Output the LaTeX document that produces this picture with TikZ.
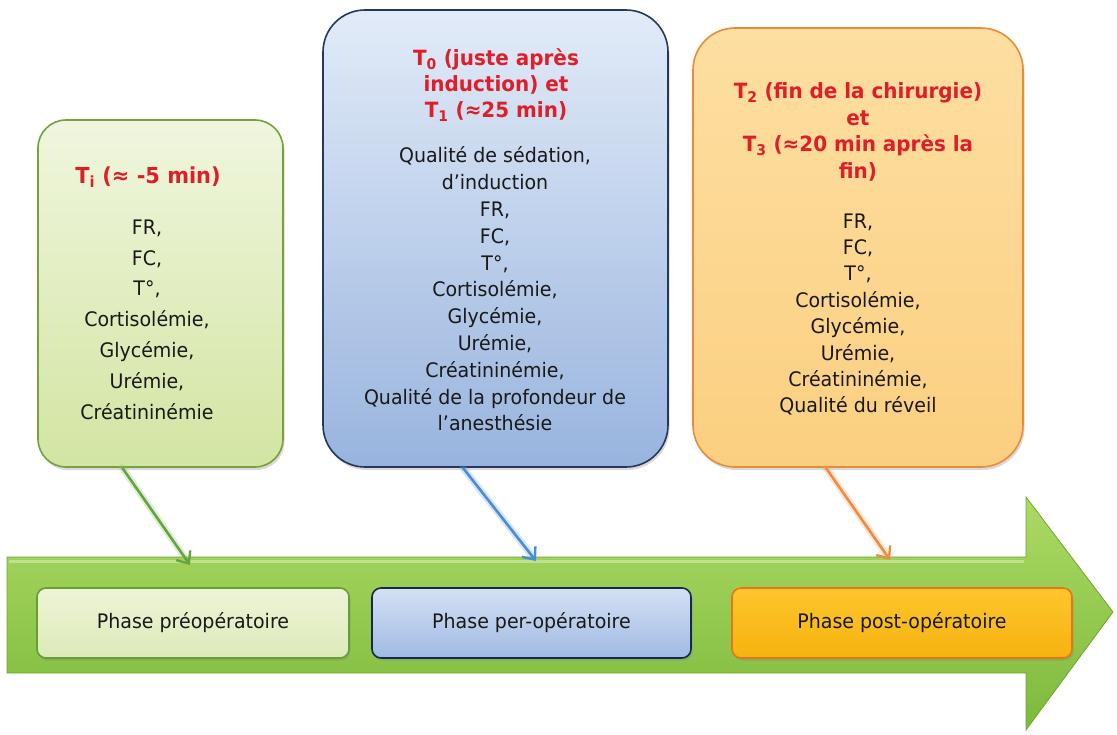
\documentclass[tikz,border=0pt]{standalone}
\usepackage{fontspec}
\setmainfont{DejaVu Sans}[FakeStretch=0.95]
\usetikzlibrary{arrows.meta,shadows,calc}
\definecolor{gTop}{RGB}{240,246,222}
\definecolor{gBot}{RGB}{210,229,162}
\definecolor{gBorder}{RGB}{120,160,60}
\definecolor{bTop}{RGB}{226,235,248}
\definecolor{bBot}{RGB}{152,180,222}
\definecolor{bBorder}{RGB}{35,55,95}
\definecolor{oTop}{RGB}{253,223,162}
\definecolor{oBot}{RGB}{251,207,128}
\definecolor{oBorder}{RGB}{233,140,55}
\definecolor{p1Top}{RGB}{238,244,215}
\definecolor{p1Bot}{RGB}{220,234,185}
\definecolor{p1Border}{RGB}{105,155,55}
\definecolor{p2Top}{RGB}{212,225,245}
\definecolor{p2Bot}{RGB}{160,186,226}
\definecolor{p2Border}{RGB}{20,40,80}
\definecolor{p3Top}{RGB}{252,198,45}
\definecolor{p3Bot}{RGB}{247,178,15}
\definecolor{p3Border}{RGB}{232,118,25}
\definecolor{arTop}{RGB}{172,218,100}
\definecolor{arMid}{RGB}{146,206,78}
\definecolor{arBot}{RGB}{125,185,60}
\definecolor{arBorder}{RGB}{110,165,50}
\definecolor{cGreen}{RGB}{100,165,60}
\definecolor{cBlue}{RGB}{75,140,215}
\definecolor{cOrange}{RGB}{238,140,65}
\definecolor{ttlred}{RGB}{222,30,40}
\definecolor{txt}{RGB}{25,25,25}
\begin{document}
\begin{tikzpicture}[x=1pt,y=-1pt,
  topbox/.style={draw, line width=1.6pt, inner sep=0pt,
    drop shadow={shadow xshift=1.5pt, shadow yshift=-3pt, opacity=0.3}},
  phasebox/.style={draw, line width=1.6pt, rounded corners=9pt, minimum height=70pt,
    inner sep=0pt, text=txt, font=\fontsize{20}{24}\selectfont,
    drop shadow={shadow xshift=1.5pt, shadow yshift=-2.5pt, opacity=0.3}},
  ttl/.style={text=ttlred, align=center, inner sep=0pt},
  bodytxt/.style={text=txt, align=center, inner sep=0pt},
  conn/.style={line width=2.6pt, -{Straight Barb[length=10pt,width=17pt,line width=2.4pt]}},
  glow/.style={line width=7pt, opacity=0.28, line cap=round}
]
\useasboundingbox (0,0) rectangle (1117,735);

% big timeline arrow
\shade[top color=arTop, middle color=arMid, bottom color=arBot, draw=arBorder, line width=0.8pt]
  (7,557) -- (1026,557) -- (1026,497) -- (1113,612) -- (1026,730) -- (1026,673) -- (7,673) -- cycle;
\draw[white, opacity=0.35, line width=3pt] (9,561) -- (1024,561);

% phase boxes
\node[phasebox, top color=p1Top, bottom color=p1Bot, draw=p1Border, minimum width=312pt]
  (P1) at (193,623) {Phase préopératoire};
\node[phasebox, top color=p2Top, bottom color=p2Bot, draw=p2Border, minimum width=319pt]
  (P2) at (531.5,623) {Phase per-opératoire};
\node[phasebox, top color=p3Top, bottom color=p3Bot, draw=p3Border, minimum width=340pt]
  (P3) at (902,623) {Phase post-opératoire};

% top boxes
\node[topbox, rounded corners=28pt, top color=gTop, bottom color=gBot, draw=gBorder,
  minimum width=245pt, minimum height=347pt] (G) at (160.5,293.5) {};
\node[topbox, rounded corners=42pt, top color=bTop, bottom color=bBot, draw=bBorder,
  minimum width=345pt, minimum height=457pt] (B) at (495.5,238.5) {};
\node[topbox, rounded corners=42pt, top color=oTop, bottom color=oBot, draw=oBorder,
  minimum width=330pt, minimum height=439pt] (O) at (858,247.5) {};

% texts of green box
\node[ttl, font=\bfseries\fontsize{22}{26}\selectfont] (Gt) at (148,177)
  {T\textsubscript{i} (≈ -5 min)};
\node[bodytxt, font=\fontsize{20}{30.8}\selectfont] (Gb) at (147,319.5)
  {FR,\\FC,\\T°,\\Cortisolémie,\\Glycémie,\\Urémie,\\Créatininémie};

% texts of blue box
\node[ttl, font=\bfseries\fontsize{21}{26}\selectfont] (Bt) at (496,85)
  {T\textsubscript{0} (juste après\\induction) et\\T\textsubscript{1} (≈25 min)};
\node[bodytxt, font=\fontsize{20}{26.8}\selectfont] (Bb) at (495,289)
  {Qualité de sédation,\\d’induction\\FR,\\FC,\\T°,\\Cortisolémie,\\Glycémie,\\Urémie,\\Créatininémie,\\Qualité de la profondeur de\\l’anesthésie};

% texts of orange box
\node[ttl, font=\bfseries\fontsize{21}{26.7}\selectfont] (Ot) at (858,132)
  {T\textsubscript{2} (fin de la chirurgie)\\et\\T\textsubscript{3} (≈20 min après la\\fin)};
\node[bodytxt, font=\fontsize{20}{26.4}\selectfont] (Ob) at (858,314.5)
  {FR,\\FC,\\T°,\\Cortisolémie,\\Glycémie,\\Urémie,\\Créatininémie,\\Qualité du réveil};

% connectors
\coordinate (gEnd) at (190,565);
\coordinate (bEnd) at (536,561);
\coordinate (oEnd) at (890,560);
\coordinate (gStart) at ($(G.south west)!0.345!(G.south east)$);
\coordinate (bStart) at ($(B.south west)!0.406!(B.south east)$);
\coordinate (oStart) at ($(O.south west)!0.403!(O.south east)$);
\draw[glow, cGreen!70] (gStart) -- ($(gStart)!0.93!(gEnd)$);
\draw[glow, cBlue!80] (bStart) -- ($(bStart)!0.93!(bEnd)$);
\draw[glow, cOrange!80] (oStart) -- ($(oStart)!0.93!(oEnd)$);
\draw[conn, cGreen] (gStart) -- (gEnd);
\draw[conn, cBlue] (bStart) -- (bEnd);
\draw[conn, cOrange] (oStart) -- (oEnd);
\end{tikzpicture}
\end{document}
